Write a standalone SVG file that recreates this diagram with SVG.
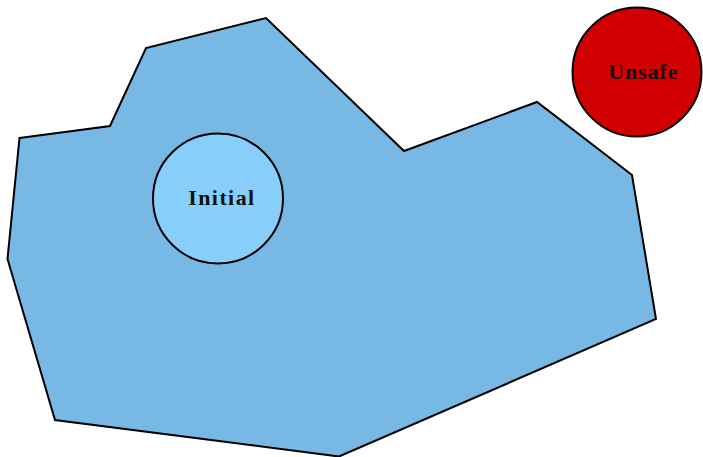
<svg xmlns="http://www.w3.org/2000/svg" width="703" height="457" viewBox="0 0 703 457">
<style>
.region{fill:#78b8e5;stroke:#000;stroke-width:2;stroke-linejoin:miter}
.node{stroke:#000;stroke-width:2}
.lbl{font-family:"Liberation Serif",serif;font-weight:bold;font-size:22px;fill:#111;text-anchor:middle}
</style>
<g id="region">
<polygon class="region" points="19.5,138 110,126 146,48 266,18 404,151 537,102 632,175 656,319 339,456.5 55,420 7.5,259"/>
</g>
<g id="connectors"></g>
<g id="initial">
<circle class="node" cx="218" cy="198.5" r="65" fill="#87cefa"/>
<text class="lbl" x="221.2" y="205" textLength="66" lengthAdjust="spacing">Initial</text>
</g>
<g id="unsafe">
<circle class="node" cx="637" cy="72" r="64.5" fill="#d00000"/>
<text class="lbl" x="642.8" y="79" textLength="69" lengthAdjust="spacing">Unsafe</text>
</g>
</svg>
